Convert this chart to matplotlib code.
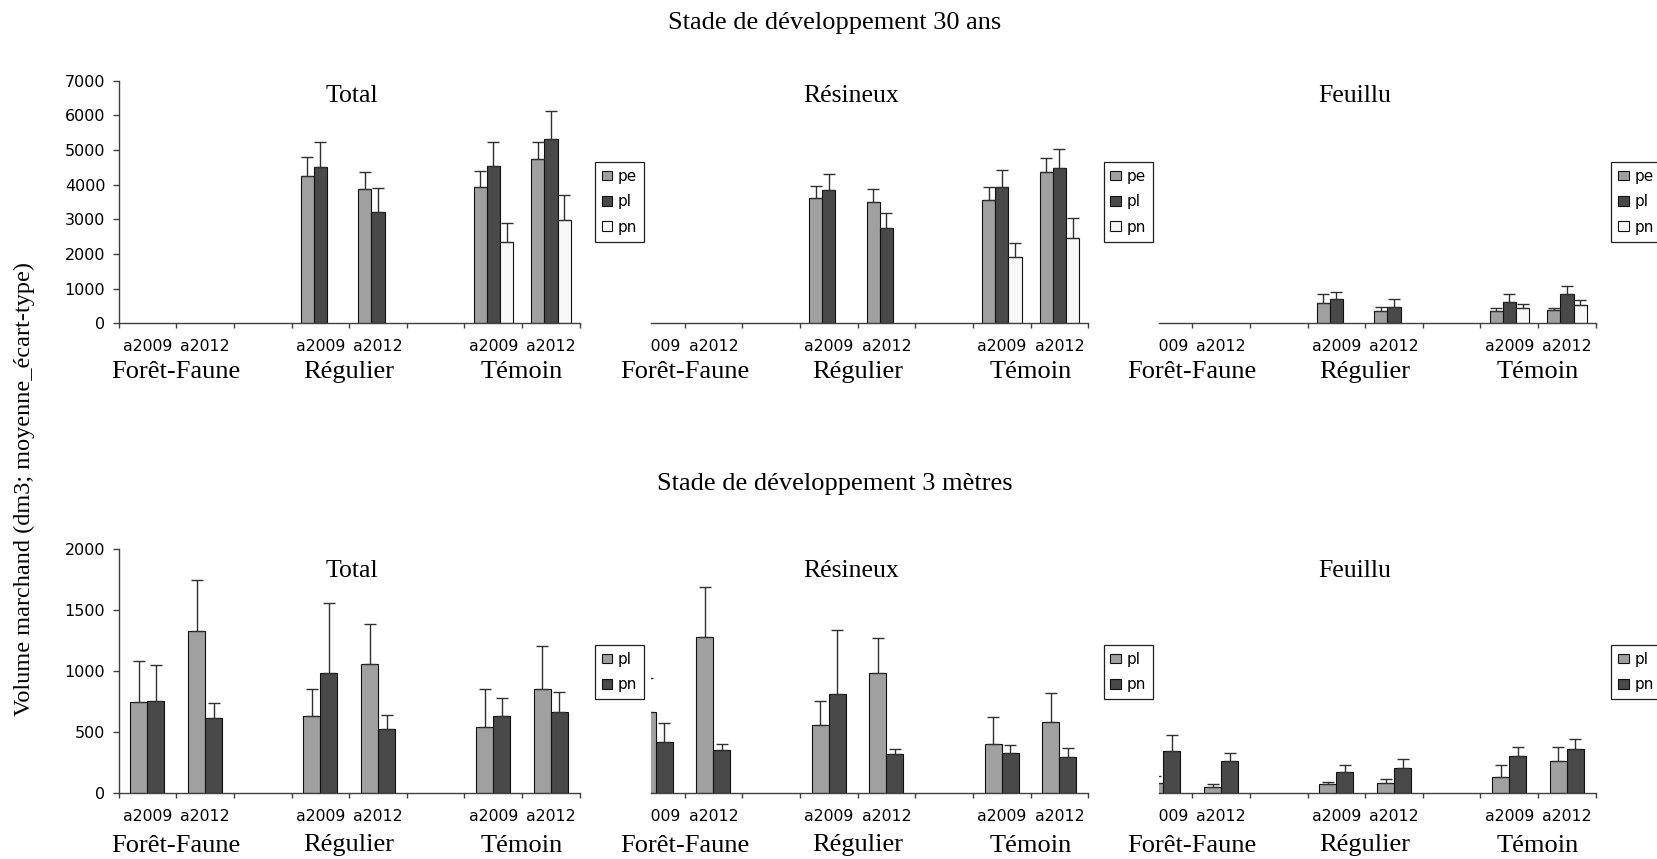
import numpy as np
import matplotlib
matplotlib.use('Agg')
import matplotlib.pyplot as plt
from matplotlib.transforms import blended_transform_factory, Bbox, TransformedBbox

nan = np.nan

# categories on the x axis (empty slots separate the three treatments)
categories = ['a2009', 'a2012', '', 'a2009', 'a2012', '', 'a2009', 'a2012']
groups = ['Forêt-Faune', 'Régulier', 'Témoin']
group_centers = [0.5, 3.5, 6.5]
panel_titles = ['Total', 'Résineux', 'Feuillu']
row_titles = ['Stade de développement 30 ans', 'Stade de développement 3 mètres']

# --- Stade 30 ans : series pe, pl, pn (moyenne, écart-type)
total30_pe = [nan, nan, nan, 4240, 3865, nan, 3933, 4740]
total30_pe_sd = [nan, nan, nan, 568, 491, nan, 471, 500]
total30_pl = [nan, nan, nan, 4500, 3221, nan, 4548, 5308]
total30_pl_sd = [nan, nan, nan, 740, 673, nan, 692, 827]
total30_pn = [nan, nan, nan, nan, nan, nan, 2356, 2971]
total30_pn_sd = [nan, nan, nan, nan, nan, nan, 538, 741]

res30_pe = [nan, nan, nan, 3606, 3490, nan, 3548, 4356]
res30_pe_sd = [nan, nan, nan, 365, 395, nan, 394, 423]
res30_pl = [nan, nan, nan, 3856, 2740, nan, 3923, 4471]
res30_pl_sd = [nan, nan, nan, 452, 452, nan, 490, 558]
res30_pn = [nan, nan, nan, nan, nan, nan, 1904, 2452]
res30_pn_sd = [nan, nan, nan, nan, nan, nan, 423, 596]

feu30_pe = [nan, nan, nan, 596, 356, nan, 356, 385]
feu30_pe_sd = [nan, nan, nan, 241, 125, nan, 96, 67]
feu30_pl = [nan, nan, nan, 692, 481, nan, 615, 837]
feu30_pl_sd = [nan, nan, nan, 221, 211, nan, 222, 230]
feu30_pn = [nan, nan, nan, nan, nan, nan, 452, 519]
feu30_pn_sd = [nan, nan, nan, nan, nan, nan, 96, 154]

# --- Stade 3 metres : series pl, pn
total3_pl = [751, 1331, nan, 634, 1063, nan, 544, 852]
total3_pl_sd = [331, 420, nan, 218, 325, nan, 314, 353]
total3_pn = [757, 615, nan, 986, 525, nan, 634, 664]
total3_pn_sd = [298, 128, nan, 577, 114, nan, 145, 164]

res3_pl = [664, 1284, nan, 557, 989, nan, 407, 585]
res3_pl_sd = [279, 405, nan, 197, 287, nan, 216, 237]
res3_pn = [418, 352, nan, 814, 320, nan, 331, 298]
res3_pn_sd = [159, 55, nan, 522, 41, nan, 68, 71]

feu3_pl = [87, 49, nan, 74, 87, nan, 137, 262]
feu3_pl_sd = [55, 25, nan, 22, 28, nan, 98, 118]
feu3_pn = [344, 262, nan, 175, 205, nan, 303, 361]
feu3_pn_sd = [137, 71, nan, 60, 79, nan, 77, 87]

rows = [
    [[(total30_pe, total30_pe_sd), (total30_pl, total30_pl_sd), (total30_pn, total30_pn_sd)],
     [(res30_pe, res30_pe_sd), (res30_pl, res30_pl_sd), (res30_pn, res30_pn_sd)],
     [(feu30_pe, feu30_pe_sd), (feu30_pl, feu30_pl_sd), (feu30_pn, feu30_pn_sd)]],
    [[(total3_pl, total3_pl_sd), (total3_pn, total3_pn_sd)],
     [(res3_pl, res3_pl_sd), (res3_pn, res3_pn_sd)],
     [(feu3_pl, feu3_pl_sd), (feu3_pn, feu3_pn_sd)]],
]
row_labels = [['pe', 'pl', 'pn'], ['pl', 'pn']]
row_colors = [['#a0a0a0', '#494949', '#f8f8f8'], ['#a0a0a0', '#494949']]
row_ymax = [7000, 2000]
row_yticks = [np.arange(0, 7001, 1000), np.arange(0, 2001, 500)]
row_barw = [0.229, 0.295]

# layout, in pixels of the 1658x859 picture
W, H = 1658, 859
slot = 57.65
panel_x0 = [118.6, 627.0, 1134.6]
crop = [0.0, 24.4, 24.4]
row_y0 = [323.3, 793.3]
row_ytop = [80.7, 549.3]
legend_x = [595, 1103.6, 1611.4]
legend_y = [162, 645]
title_base = [101.7, 576.7]
title_x = [3.55, 3.39, 3.32]
cat_base = [350.7, 820.7]
group_base = [378.3, 851.5]
row_title_base = [29, 490]

SANS = 'DejaVu Sans'
SERIF = 'Liberation Serif'
plt.rcParams['font.family'] = SANS

fig = plt.figure(figsize=(W / 100, H / 100), dpi=100)
fig.patch.set_facecolor('white')

for r in range(2):
    for c in range(3):
        left = panel_x0[c] + crop[c]
        right = panel_x0[c] + 8 * slot
        ax = fig.add_axes([left / W, 1 - row_y0[r] / H, (right - left) / W,
                           (row_y0[r] - row_ytop[r]) / H])
        x = np.arange(len(categories))
        series = rows[r][c]
        n = len(series)
        w = row_barw[r]
        for k, (mean, sd) in enumerate(series):
            mean = np.array(mean, float)
            sd = np.array(sd, float)
            off = (k - (n - 1) / 2) * w
            ax.bar(x + off, mean, w, color=row_colors[r][k], edgecolor='#111111',
                   linewidth=0.8, label=row_labels[r][k], zorder=2)
            ax.errorbar(x + off, mean, yerr=[np.zeros_like(sd), sd], fmt='none',
                        ecolor='#303030', elinewidth=1.0, capsize=4.3, capthick=1.0,
                        zorder=3)
        ax.set_facecolor('none')
        for s in ['top', 'right']:
            ax.spines[s].set_visible(False)
        ax.spines['bottom'].set_color('#404040')
        ax.spines['bottom'].set_linewidth(1.0)
        ax.set_xticks(np.arange(-0.5, 8, 1))
        ax.set_xticklabels([])
        ax.tick_params(axis='x', direction='out', length=3.3, width=1.0, color='#404040')
        if c == 0:
            ax.spines['left'].set_color('#404040')
            ax.spines['left'].set_linewidth(1.0)
            ax.set_yticks(row_yticks[r])
            ax.tick_params(axis='y', direction='out', length=4.3, width=1.0,
                           color='#404040', pad=5.3, labelsize=11.5)
        else:
            ax.spines['left'].set_visible(False)
            ax.set_yticks([])
        # limits after the ticks, so the cropped left edge stays
        ax.set_xlim(-0.5 + crop[c] / slot, 7.5)
        ax.set_ylim(0, row_ymax[r])

        # category labels, clipped at the visible left edge of the panel
        tr = blended_transform_factory(ax.transData, fig.transFigure)
        clip = TransformedBbox(Bbox([[left / W, 0], [1, 1]]), fig.transFigure)
        for i, lab in enumerate(categories):
            if lab:
                t = fig.text(i, 1 - cat_base[r] / H, lab, transform=tr, ha='center',
                             va='baseline', fontsize=11.3, family=SANS)
                t.set_clip_box(clip)
                t.set_clip_on(True)
        for g, gx in zip(groups, group_centers):
            fig.text(gx, 1 - group_base[r] / H, g, transform=tr, ha='center',
                     va='baseline', fontsize=19, family=SERIF)
        fig.text(title_x[c], 1 - title_base[r] / H, panel_titles[c], transform=tr,
                 ha='center', va='baseline', fontsize=18.5, family=SERIF)

        handles, labels = ax.get_legend_handles_labels()
        leg = fig.legend(handles, labels, loc='upper left',
                         bbox_to_anchor=(legend_x[c] / W, 1 - legend_y[r] / H),
                         bbox_transform=fig.transFigure, fontsize=11,
                         frameon=True, fancybox=False, shadow=False, framealpha=1,
                         borderpad=0.45, handlelength=0.68, handleheight=0.6,
                         handletextpad=0.38, labelspacing=0.68, borderaxespad=0)
        leg.get_frame().set_edgecolor('#202020')
        leg.get_frame().set_linewidth(0.9)

    fig.text(834.5 / W, 1 - row_title_base[r] / H, row_titles[r], ha='center',
             va='baseline', fontsize=19, family=SERIF)

fig.text(24 / W, 1 - 489 / H, 'Volume marchand (dm3; moyenne_écart-type)',
         rotation=90, ha='center', va='center', fontsize=17.5, family=SERIF)

fig.savefig('out.png', dpi=100)
